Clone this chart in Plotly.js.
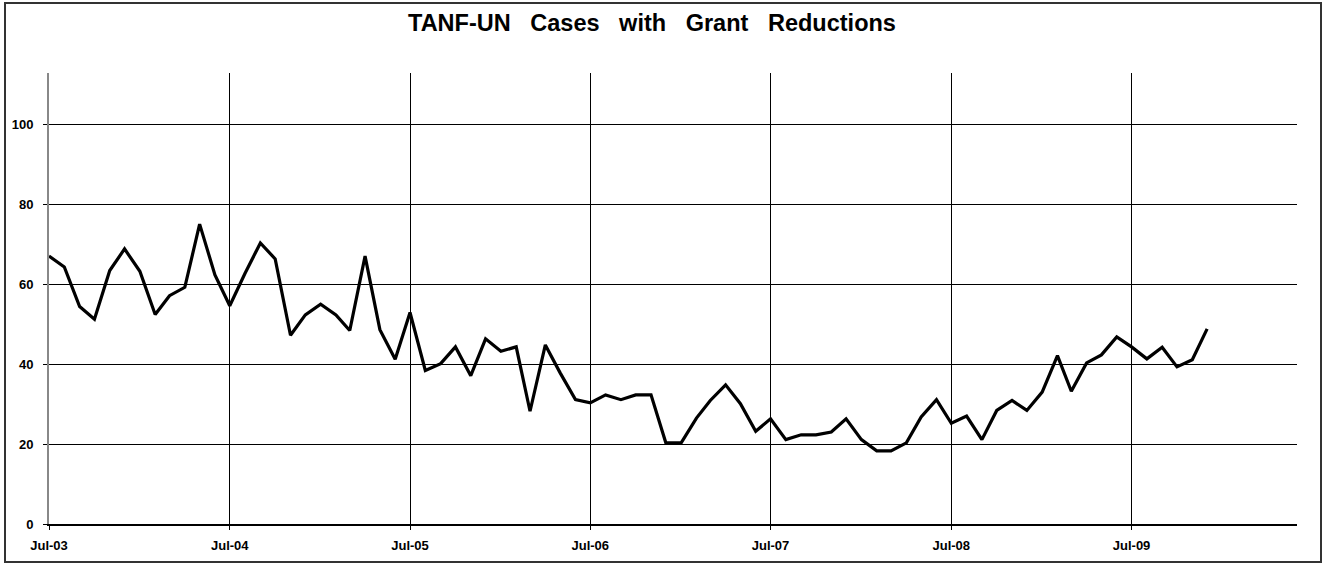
<!DOCTYPE html>
<html>
<head>
<meta charset="utf-8">
<script src="https://cdn.plot.ly/plotly-3.0.1.min.js"></script>
<style>
  html, body { margin: 0; padding: 0; background: #fff; }
  #chart { width: 1323px; height: 565px; }
  #frame { position: absolute; left: 4px; top: 2px; width: 1318px; height: 561px;
           box-sizing: border-box; border: 2px solid #333; pointer-events: none; }
</style>
</head>
<body>
<div id="chart"></div>
<div id="frame"></div>
<script>
// Monthly dates Jul-03 .. Dec-09
const months = [
  '2003-07-01','2003-08-01','2003-09-01','2003-10-01','2003-11-01','2003-12-01',
  '2004-01-01','2004-02-01','2004-03-01','2004-04-01','2004-05-01','2004-06-01',
  '2004-07-01','2004-08-01','2004-09-01','2004-10-01','2004-11-01','2004-12-01',
  '2005-01-01','2005-02-01','2005-03-01','2005-04-01','2005-05-01','2005-06-01',
  '2005-07-01','2005-08-01','2005-09-01','2005-10-01','2005-11-01','2005-12-01',
  '2006-01-01','2006-02-01','2006-03-01','2006-04-01','2006-05-01','2006-06-01',
  '2006-07-01','2006-08-01','2006-09-01','2006-10-01','2006-11-01','2006-12-01',
  '2007-01-01','2007-02-01','2007-03-01','2007-04-01','2007-05-01','2007-06-01',
  '2007-07-01','2007-08-01','2007-09-01','2007-10-01','2007-11-01','2007-12-01',
  '2008-01-01','2008-02-01','2008-03-01','2008-04-01','2008-05-01','2008-06-01',
  '2008-07-01','2008-08-01','2008-09-01','2008-10-01','2008-11-01','2008-12-01',
  '2009-01-01','2009-02-01','2009-03-01','2009-04-01','2009-05-01','2009-06-01',
  '2009-07-01','2009-08-01','2009-09-01','2009-10-01','2009-11-01','2009-12-01'
];

const cases = [
  67, 64.3, 54.4, 51.2, 63.4, 68.8,
  63.2, 52.4, 57.1, 59.2, 75, 62.3,
  54.6, 62.7, 70.3, 66.3, 47.2, 52.3,
  55, 52.3, 48.4, 67, 48.6, 41.2,
  52.9, 38.4, 40.1, 44.3, 37.1, 46.3,
  43.2, 44.3, 28.2, 44.8, 37.8, 31.1,
  30.3, 32.3, 31.1, 32.3, 32.3, 20.3,
  20.3, 26.5, 30.9, 34.8, 30.1, 23.2,
  26.3, 21.1, 22.3, 22.3, 23, 26.3,
  21.1, 18.3, 18.3, 20.3, 26.8, 31.1,
  25.2, 27, 21.1, 28.4, 30.9, 28.4,
  33, 42.1, 33.2, 40.3, 42.3, 46.8,
  44.3, 41.3, 44.2, 39.3, 41.1, 48.8
];

const xTickVals = ['2003-07-01','2004-07-01','2005-07-01','2006-07-01','2007-07-01','2008-07-01','2009-07-01'];
const xTickText = ['Jul-03','Jul-04','Jul-05','Jul-06','Jul-07','Jul-08','Jul-09'];
const yTickVals = [0, 20, 40, 60, 80, 100];
const yTickText = ['0', '20', '40', '60', '80', '100'];

const titleText = ['TANF-UN', 'Cases', 'with', 'Grant', 'Reductions'].join('\u00a0\u00a0\u00a0');

const fontFam = 'Arial, "Liberation Sans", sans-serif';

const trace = {
  x: months,
  y: cases,
  type: 'scatter',
  mode: 'lines',
  line: { color: '#000', width: 3.2 },
  hoverinfo: 'x+y'
};

const layout = {
  width: 1323,
  height: 565,
  margin: { l: 49, r: 26, t: 73, b: 41 },
  paper_bgcolor: '#fff',
  plot_bgcolor: '#fff',
  showlegend: false,
  title: {
    text: titleText,
    font: { family: fontFam, size: 23.5, color: '#000', weight: 'bold' },
    xref: 'container', x: 0.4928, xanchor: 'center',
    yref: 'container', y: 1 - 23 / 565, yanchor: 'middle'
  },
  xaxis: {
    type: 'date',
    range: ['2003-07-01', '2010-06-01'],
    tickvals: xTickVals,
    ticktext: xTickText,
    tickfont: { family: fontFam, size: 13, color: '#000', weight: 'bold' },
    showgrid: true,
    gridcolor: '#000',
    gridwidth: 1,
    showline: true,
    linecolor: '#000',
    linewidth: 1.5,
    ticks: 'outside',
    ticklen: 4,
    tickcolor: '#000',
    ticklabelstandoff: 5,
    zeroline: false,
    fixedrange: true
  },
  yaxis: {
    range: [0, 112.8],
    tickvals: yTickVals,
    ticktext: yTickText,
    tickfont: { family: fontFam, size: 13, color: '#000', weight: 'bold' },
    showgrid: true,
    gridcolor: '#000',
    gridwidth: 1,
    showline: true,
    linecolor: '#888',
    linewidth: 2,
    ticks: 'outside',
    ticklen: 4,
    tickcolor: '#000',
    ticklabelstandoff: 7,
    zeroline: false,
    fixedrange: true
  }
};

Plotly.newPlot('chart', [trace], layout, { displayModeBar: false, staticPlot: true });
</script>
</body>
</html>
